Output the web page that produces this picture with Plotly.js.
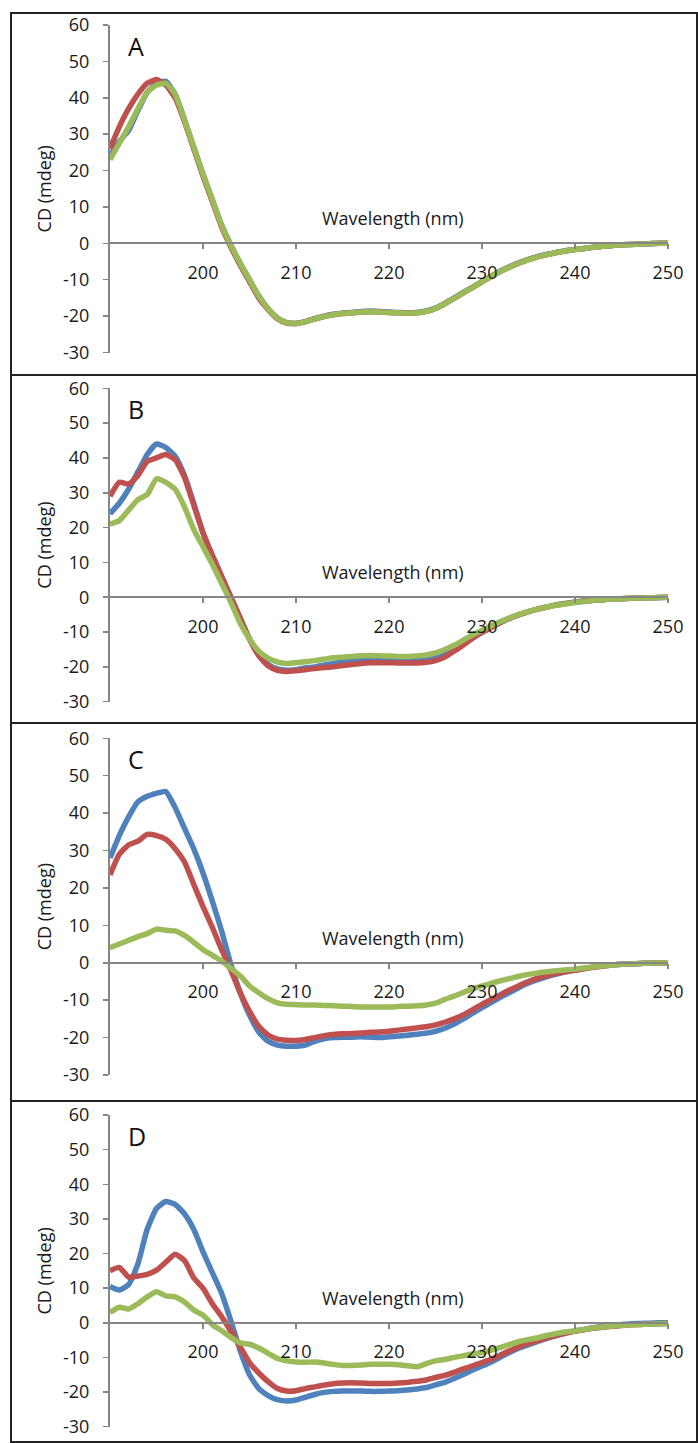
<!DOCTYPE html>
<html>
<head>
<meta charset="utf-8">
<script src="https://cdn.plot.ly/plotly-3.0.1.min.js"></script>
<style>
  html, body { margin: 0; padding: 0; background: #ffffff; }
  #chart { width: 698px; height: 1443px; }
</style>
</head>
<body>
<div id="chart"></div>
<script>
// ---------------- DATA ----------------
const wavelength = [
  190,191,192,193,194,195,196,197,198,199,
  200,201,202,203,204,205,206,207,208,209,
  210,211,212,213,214,215,216,217,218,219,
  220,221,222,223,224,225,226,227,228,229,
  230,231,232,233,234,235,236,237,238,239,
  240,241,242,243,244,245,246,247,248,249,
  250
];
const panelLabels = ['A', 'B', 'C', 'D'];
const xTickValues = [200, 210, 220, 230, 240, 250];
const yTickValues = [-30, -20, -10, 0, 10, 20, 30, 40, 50, 60];
const yTickLabels = ['-30', '-20', '-10', '0', '10', '20', '30', '40', '50', '60'];
const xAxisTitle = 'Wavelength (nm)';
const yAxisTitle = 'CD (mdeg)';

// Panel A
const aBlue = [
  24, 28, 31, 36.5, 41.5, 44, 44.5, 41, 34, 26.5,
  19, 12, 5, -0.5, -5.5, -10, -14.5, -18, -20.5, -21.8,
  -22, -21.5, -20.7, -20, -19.5, -19.2, -19, -18.7, -18.6, -18.7,
  -18.9, -19, -19.1, -19, -18.6, -17.8, -16.5, -15, -13.5, -12,
  -10.5, -9, -7.6, -6.4, -5.3, -4.4, -3.6, -3, -2.5, -2,
  -1.7, -1.4, -1.1, -0.8, -0.6, -0.4, -0.3, -0.2, -0.1, 0,
  0
];
const aRed = [
  26, 32, 37, 41, 44, 45, 43.5, 40, 33.5, 26,
  18.5, 11.5, 4.5, -1, -6, -10.5, -15, -18.2, -20.7, -21.9,
  -22, -21.5, -20.8, -20.1, -19.6, -19.3, -19.1, -18.9, -18.8, -18.9,
  -19, -19.1, -19.2, -19.1, -18.7, -17.9, -16.6, -15.1, -13.6, -12.1,
  -10.6, -9.1, -7.7, -6.5, -5.4, -4.5, -3.7, -3.1, -2.5, -2.1,
  -1.7, -1.4, -1.1, -0.8, -0.6, -0.4, -0.3, -0.2, -0.1, 0,
  0
];
const aGreen = [
  23, 27.5, 32, 37, 41.5, 43.5, 44, 41, 34, 26.5,
  19, 12, 5, -0.5, -5.5, -10, -14.5, -18, -20.5, -21.8,
  -22, -21.6, -20.8, -20.1, -19.6, -19.3, -19.1, -18.9, -18.8, -18.9,
  -19, -19.1, -19.2, -19.1, -18.7, -17.9, -16.6, -15.1, -13.6, -12.1,
  -10.6, -9.1, -7.7, -6.5, -5.4, -4.5, -3.7, -3.1, -2.5, -2.1,
  -1.7, -1.4, -1.1, -0.8, -0.6, -0.4, -0.3, -0.2, -0.1, 0,
  0
];

// Panel B
const bBlue = [
  24, 27, 31, 36, 41, 44, 43, 40.5, 35, 27,
  18.5, 12, 6, 0, -6, -12, -16.5, -19.3, -20.6, -21,
  -20.8, -20.3, -20, -19.5, -19, -18.6, -18.3, -18, -17.9, -17.9,
  -18, -18.1, -18.2, -18.2, -18, -17.5, -16.5, -15, -13.3, -11.5,
  -10, -8.6, -7.2, -6, -5, -4.1, -3.4, -2.8, -2.2, -1.8,
  -1.4, -1.1, -0.9, -0.7, -0.5, -0.4, -0.3, -0.2, -0.15, -0.1,
  0
];
const bRed = [
  29, 33, 32.5, 35, 39, 40, 41, 39.5, 34.5, 26.5,
  18.5, 12, 6, 0, -6, -12, -16.8, -19.7, -21, -21.3,
  -21.1, -20.8, -20.5, -20.2, -20, -19.6, -19.3, -19, -18.8, -18.8,
  -18.8, -18.9, -18.9, -18.9, -18.7, -18.2, -17.2, -15.5, -13.7, -11.8,
  -10.1, -8.7, -7.3, -6, -5, -4.1, -3.4, -2.8, -2.2, -1.8,
  -1.4, -1.1, -0.9, -0.7, -0.5, -0.4, -0.3, -0.2, -0.15, -0.1,
  0
];
const bGreen = [
  21, 22, 25, 28, 29.5, 34, 33, 31, 26, 19.5,
  14.5, 9.5, 4, -1.5, -7.5, -12, -15.5, -17.5, -18.6, -19,
  -18.8, -18.5, -18.2, -17.8, -17.4, -17.2, -17, -16.8, -16.7, -16.8,
  -16.9, -17, -17, -16.9, -16.6, -16, -15, -13.8, -12.3, -10.8,
  -9.5, -8.2, -7, -5.9, -4.9, -4.1, -3.4, -2.8, -2.3, -1.9,
  -1.5, -1.2, -0.9, -0.7, -0.5, -0.4, -0.3, -0.2, -0.15, -0.1,
  0
];

// Panel C
const cBlue = [
  28, 34, 39, 43, 44.5, 45.3, 45.8, 41.5, 36, 30.5,
  24, 16.5, 8.5, -0.5, -8, -14, -18.5, -21, -22, -22.3,
  -22.3, -22, -21, -20.3, -20, -19.9, -19.9, -19.8, -19.9, -20,
  -19.8, -19.6, -19.4, -19.1, -18.8, -18.3, -17.5, -16.4, -15, -13.5,
  -12, -10.6, -9.2, -7.9, -6.6, -5.4, -4.5, -3.7, -3, -2.4,
  -1.9, -1.5, -1.1, -0.8, -0.6, -0.4, -0.3, -0.2, -0.1, -0.05,
  0
];
const cRed = [
  23.5, 29, 31.5, 32.5, 34.3, 34, 33, 30.5, 27, 21,
  15, 9.5, 3.5, -2, -8, -13, -17, -19.3, -20.4, -20.7,
  -20.8, -20.5, -20, -19.5, -19.2, -19, -18.9, -18.8, -18.6, -18.5,
  -18.3, -18, -17.7, -17.4, -17.1, -16.6, -15.9, -15, -13.9, -12.5,
  -11.1, -9.8, -8.5, -7.2, -6.1, -5, -4.1, -3.4, -2.8, -2.4,
  -2, -1.6, -1.2, -0.9, -0.6, -0.4, -0.3, -0.2, -0.1, -0.05,
  0
];
const cGreen = [
  4, 5, 6, 7, 7.8, 9, 8.7, 8.5, 7.3, 5.5,
  3.5, 2, 0.5, -1.5, -3.5, -6.2, -8, -9.6, -10.7, -11.1,
  -11.2, -11.3, -11.3, -11.4, -11.5, -11.6, -11.7, -11.8, -11.8, -11.8,
  -11.8, -11.7, -11.6, -11.5, -11.3, -10.8, -9.8, -8.9, -7.9, -7,
  -6.2, -5.5, -4.8, -4.2, -3.6, -3.1, -2.7, -2.4, -2.1, -1.9,
  -1.7, -1.4, -1.1, -0.8, -0.6, -0.4, -0.3, -0.2, -0.1, -0.05,
  0
];

// Panel D
const dBlue = [
  10.5, 9.5, 11, 17, 27, 33, 35, 34.2, 31.5, 27,
  20.5, 14.5, 8.5, 0.5, -8, -15, -19, -21, -22.2, -22.6,
  -22.3, -21.5, -20.7, -20.1, -19.8, -19.7, -19.7, -19.7, -19.8, -19.8,
  -19.7, -19.6, -19.4, -19.1, -18.7, -17.9, -17.2, -16.1, -14.9, -13.6,
  -12.5, -11.3, -9.9, -8.5, -7.3, -6.3, -5.4, -4.5, -3.7, -3,
  -2.4, -1.9, -1.4, -1, -0.7, -0.5, -0.3, -0.2, -0.1, 0,
  0
];
const dRed = [
  15, 16, 13.2, 13.5, 14, 15.2, 17.5, 19.8, 18, 13,
  10, 5.5, 1.8, -2.5, -7, -11.5, -14.5, -17, -19, -19.7,
  -19.6, -19, -18.5, -18, -17.6, -17.4, -17.3, -17.4, -17.5, -17.5,
  -17.5, -17.4, -17.2, -16.9, -16.5, -15.8, -15.2, -14.3, -13.3, -12.4,
  -11.5, -10.5, -9.3, -8, -6.9, -5.9, -5.1, -4.3, -3.6, -3,
  -2.4, -2, -1.6, -1.3, -1, -0.8, -0.6, -0.5, -0.4, -0.3,
  -0.2
];
const dGreen = [
  3, 4.5, 4, 5.5, 7.5, 9, 7.8, 7.5, 6, 3.7,
  2.2, -0.5, -2.3, -4.2, -5.8, -6.2, -7.3, -8.8, -10.3, -11,
  -11.3, -11.4, -11.3, -11.6, -12, -12.3, -12.3, -12.2, -12, -12,
  -12, -12.1, -12.4, -12.7, -11.8, -11, -10.6, -10, -9.5, -9,
  -8.6, -7.9, -7.1, -6.2, -5.4, -4.8, -4.3, -3.6, -3.1, -2.6,
  -2.3, -1.9, -1.5, -1.2, -0.9, -0.7, -0.6, -0.5, -0.4, -0.3,
  -0.2
];

const seriesColors = ['#4F81BD', '#C0504D', '#9BBB59'];
const panelSeries = [
  [aBlue, aRed, aGreen],
  [bBlue, bRed, bGreen],
  [cBlue, cRed, cGreen],
  [dBlue, dRed, dGreen]
];

// ---------------- LAYOUT (pixel geometry) ----------------
const W = 698, H = 1443;
const FONT = 'Open Sans, Liberation Sans, sans-serif';
const plotLeft = 110, plotRight = 668;
const geom = [
  { top: 25,    bottom: 352.5,  frameTop: 13,   frameBottom: 375 },
  { top: 388.3, bottom: 701.7,  frameTop: 375,  frameBottom: 723 },
  { top: 738.3, bottom: 1075,   frameTop: 723,  frameBottom: 1101 },
  { top: 1115,  bottom: 1426.7, frameTop: 1101, frameBottom: 1442 }
];
const px = v => v / W;
const py = v => 1 - v / H;

const traces = [];
const layout = {
  width: W, height: H,
  margin: { l: 0, r: 0, t: 0, b: 0, pad: 0 },
  paper_bgcolor: '#ffffff', plot_bgcolor: 'rgba(0,0,0,0)',
  showlegend: false,
  font: { family: FONT, color: '#1a1a1a' },
  shapes: [], annotations: []
};

panelSeries.forEach((series, i) => {
  const n = i === 0 ? '' : String(i + 1);
  const g = geom[i];
  const d0 = py(g.bottom), d1 = py(g.top);
  const zeroPos = d0 + (d1 - d0) * (30 / 90);

  series.forEach((ys, k) => {
    traces.push({
      type: 'scatter', mode: 'lines',
      x: wavelength, y: ys,
      xaxis: 'x' + n, yaxis: 'y' + n,
      line: { color: seriesColors[k], width: 5.5, shape: 'spline', smoothing: 0.5 },
      hoverinfo: 'skip'
    });
  });

  layout['xaxis' + n] = {
    domain: [px(plotLeft), px(plotRight)],
    range: [190, 250],
    anchor: 'free', position: zeroPos,
    tickmode: 'array', tickvals: xTickValues,
    ticks: 'outside', ticklen: 5, tickwidth: 1.5, tickcolor: '#868686',
    showline: true, linecolor: '#868686', linewidth: 2,
    showgrid: false, zeroline: false,
    tickfont: { family: FONT, size: 18, color: '#1a1a1a' },
    ticklabelstandoff: 8,
    automargin: false, fixedrange: true
  };
  layout['yaxis' + n] = {
    domain: [d0, d1],
    range: [-30, 60],
    anchor: 'x' + n,
    tickmode: 'array', tickvals: yTickValues, ticktext: yTickLabels,
    ticks: 'outside', ticklen: 5, tickwidth: 1.5, tickcolor: '#868686',
    showline: true, linecolor: '#868686', linewidth: 2,
    showgrid: false, zeroline: false,
    tickfont: { family: FONT, size: 18, color: '#1a1a1a' },
    ticklabelstandoff: 10,
    title: { text: yAxisTitle, font: { family: FONT, size: 18, color: '#1a1a1a' }, standoff: 7 },
    automargin: false, fixedrange: true
  };

  layout.shapes.push({
    type: 'rect', xref: 'paper', yref: 'paper',
    x0: px(11), x1: px(697), y0: py(g.frameBottom), y1: py(g.frameTop),
    line: { color: '#222222', width: 2 }, fillcolor: 'rgba(0,0,0,0)', layer: 'above'
  });
  layout.annotations.push({
    xref: 'paper', yref: 'paper',
    x: px(126), y: py(g.top + 21),
    xanchor: 'left', yanchor: 'middle',
    text: panelLabels[i], showarrow: false,
    font: { family: FONT, size: 25, color: '#111111' }
  });
  const zeroPx = g.top + (g.bottom - g.top) * (60 / 90);
  layout.annotations.push({
    xref: 'paper', yref: 'paper',
    x: px(393), y: py(zeroPx - 25),
    xanchor: 'center', yanchor: 'middle',
    text: xAxisTitle, showarrow: false,
    font: { family: FONT, size: 18, color: '#1a1a1a' }
  });
});

Plotly.newPlot('chart', traces, layout, { staticPlot: true, displayModeBar: false });
</script>
</body>
</html>
